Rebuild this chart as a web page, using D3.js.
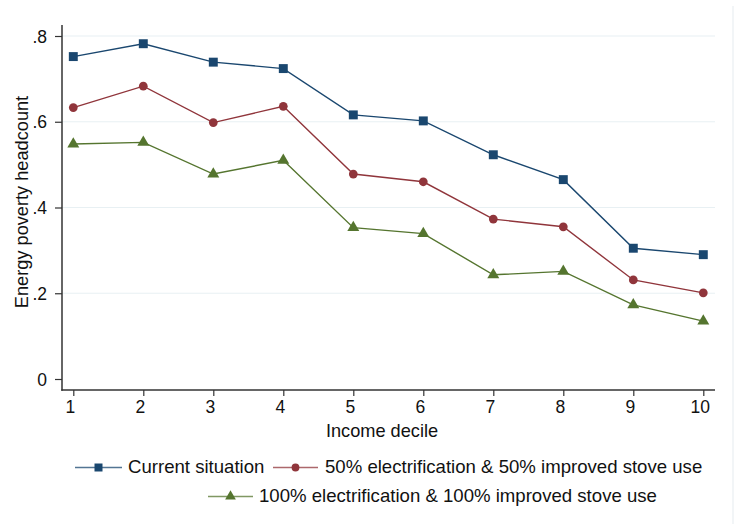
<!DOCTYPE html>
<html><head><meta charset="utf-8">
<script src="https://cdn.jsdelivr.net/npm/d3@7"></script>
<style>body{margin:0;background:#fff}svg{display:block}text{font-family:"Liberation Sans",Arial,sans-serif;fill:#111}</style>
</head><body><svg id="c" width="738" height="524"></svg>
<script>
const deciles = [1,2,3,4,5,6,7,8,9,10];
const current = [0.752,0.782,0.739,0.724,0.616,0.602,0.523,0.465,0.305,0.290];
const half = [0.633,0.683,0.598,0.636,0.478,0.460,0.373,0.355,0.231,0.201];
const full = [0.548,0.552,0.478,0.510,0.353,0.339,0.243,0.251,0.173,0.135];
const yTicks = [0,0.2,0.4,0.6,0.8];
const yTickLabels = ["0",".2",".4",".6",".8"];
const seriesNames = ["Current situation","50% electrification & 50% improved stove use","100% electrification & 100% improved stove use"];
const colors = ["#1a476f","#90353b","#55752f"];
const shapes = [d3.symbolSquare, d3.symbolCircle, d3.symbolTriangle];
const symSizes = [80, 60, 62];

const svg = d3.select("#c");
const x = d3.scaleLinear().domain([1,10]).range([73.3,703.3]);
const y = d3.scaleLinear().domain([0,0.8]).range([379,36]);
const pLeft = 62, pRight = 715, pBottom = 390, pTop = 25;

// faint outer border
svg.append("line").attr("x1",733).attr("x2",733).attr("y1",6).attr("y2",524).attr("stroke","#eef2f4").attr("stroke-width",1.5);

// grid
svg.append("g").selectAll("line").data(yTicks.filter(d=>d>0)).join("line")
  .attr("x1",pLeft).attr("x2",pRight).attr("y1",d=>y(d)).attr("y2",d=>y(d))
  .attr("stroke","#e8f0f3").attr("stroke-width",1.2);

// y axis
const yAxis = d3.axisLeft(y).tickValues(yTicks).tickFormat((d,i)=>yTickLabels[i]).tickSize(7).tickPadding(8);
const gy = svg.append("g").attr("transform",`translate(${pLeft},0)`).call(yAxis);
gy.select(".domain").remove();
gy.selectAll(".tick line").attr("stroke","#333").attr("stroke-width",1.2);
gy.selectAll(".tick text").attr("font-size",17.5).attr("font-family","Liberation Sans, Arial").attr("fill","#111").attr("dy","0.35em");
svg.append("line").attr("x1",pLeft).attr("x2",pLeft).attr("y1",pTop).attr("y2",pBottom+0.7).attr("stroke","#333").attr("stroke-width",1.5);

// x axis
const xAxis = d3.axisBottom(x).tickValues(deciles).tickFormat(d3.format("d")).tickSize(6).tickPadding(5);
const gx = svg.append("g").attr("transform",`translate(0,${pBottom})`).call(xAxis);
gx.select(".domain").remove();
gx.selectAll(".tick line").attr("stroke","#333").attr("stroke-width",1.2);
gx.selectAll(".tick text").attr("font-size",17.5).attr("font-family","Liberation Sans, Arial").attr("fill","#111").attr("dx",-3.5);
svg.append("line").attr("x1",pLeft-0.7).attr("x2",pRight).attr("y1",pBottom).attr("y2",pBottom).attr("stroke","#333").attr("stroke-width",1.5);

// titles
svg.append("text").attr("x",382).attr("y",437).attr("text-anchor","middle").attr("font-size",18.2).text("Income decile");
svg.append("text").attr("transform","translate(28,202) rotate(-90)").attr("text-anchor","middle").attr("font-size",18.2).text("Energy poverty headcount");

// series
const allSeries = [current, half, full];
const line = d3.line().x((d,i)=>x(deciles[i])).y(d=>y(d));
allSeries.forEach((vals,k)=>{
  svg.append("path").datum(vals).attr("d",line).attr("fill","none").attr("stroke",colors[k]).attr("stroke-width",1.4);
  svg.append("g").selectAll("path").data(vals).join("path")
    .attr("transform",(d,i)=>`translate(${x(deciles[i])},${y(d)})`)
    .attr("d",d3.symbol().type(shapes[k]).size(symSizes[k]))
    .attr("fill",colors[k]);
});

// legend
const legendItems = [
  {x0:75, x1:122, y:467.5, tx:128},
  {x0:273, x1:318, y:467.5, tx:325},
  {x0:208, x1:253, y:496.5, tx:259}
];
legendItems.forEach((L,k)=>{
  const g = svg.append("g");
  g.append("line").attr("x1",L.x0).attr("x2",L.x1).attr("y1",L.y).attr("y2",L.y).attr("stroke",colors[k]).attr("stroke-width",1.4).attr("stroke-opacity",0.75);
  g.append("path").attr("transform",`translate(${(L.x0+L.x1)/2},${L.y})`).attr("d",d3.symbol().type(shapes[k]).size(symSizes[k]*0.8)).attr("fill",colors[k]);
  g.append("text").attr("x",L.tx).attr("y",L.y+5.8).attr("font-size",18.6).text(seriesNames[k]);
});
</script></body></html>
